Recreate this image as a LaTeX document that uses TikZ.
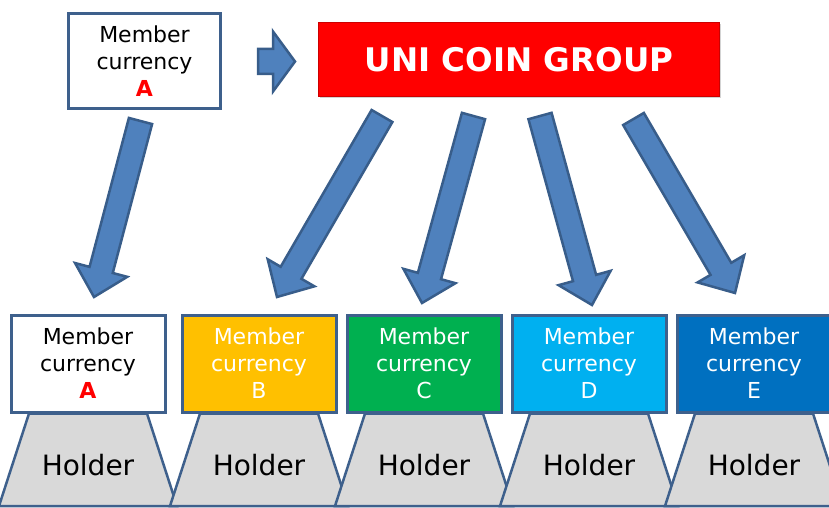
\documentclass[tikz,border=0pt]{standalone}
\usepackage{fontspec}
\setmainfont{DejaVu Sans}
\usetikzlibrary{calc, shadows}
\definecolor{arrowblue}{RGB}{79,129,189}
\definecolor{arrowedge}{RGB}{56,93,138}
\definecolor{boxedge}{RGB}{62,96,140}
\definecolor{coinred}{RGB}{255,0,0}
\definecolor{goldB}{RGB}{255,192,0}
\definecolor{greenC}{RGB}{0,176,80}
\definecolor{cyanD}{RGB}{0,176,240}
\definecolor{blueE}{RGB}{0,112,192}
\definecolor{holdgray}{RGB}{217,217,217}
\tikzstyle{member} = [draw=boxedge, line width=3, inner sep=0,
    minimum width=154, minimum height=97, align=center,
    font=\fontsize{22}{27}\selectfont]
\tikzstyle{coinbox} = [fill=coinred, draw=red!80!black, line width=0.6,
    minimum width=401, minimum height=74, text=white,
    font=\fontsize{32.5}{36}\selectfont\bfseries,
    drop shadow={opacity=0.35, shadow xshift=1.5pt, shadow yshift=-2pt}]
\tikzstyle{holder} = [draw=boxedge, line width=2.5, fill=holdgray]
\tikzstyle{holdtext} = [inner sep=0, font=\fontsize{28}{32}\selectfont]
\tikzstyle{bigarrow} = [draw=arrowedge, line width=2.5, fill=arrowblue]
% block arrow: from, to, shaft half width, head half width, head length
\newcommand{\blockarrow}[5]{%
  \coordinate (hb) at ($(#2)!#5!(#1)$);
  \draw[bigarrow] ($(#1)!#3!90:(#2)$) -- ($(hb)!#3!90:(#2)$)
    -- ($(hb)!#4!90:(#2)$) -- (#2) -- ($(hb)!#4!-90:(#2)$)
    -- ($(hb)!#3!-90:(#2)$) -- ($(#1)!#3!-90:(#2)$) -- cycle;}

\begin{document}
\begin{tikzpicture}[x=1pt, y=-1pt]
\clip (0,0) rectangle (829,508);

%%% holders
\coordinate (baseA) at (88,413.5);
\coordinate (baseB) at (259,413.5);
\coordinate (baseC) at (424,413.5);
\coordinate (baseD) at (589,413.5);
\coordinate (baseE) at (754,413.5);

\draw[holder] ($(baseA)+(-59,0)$) -- ($(baseA)+(59,0)$) -- ($(baseA)+(89,92.5)$) -- ($(baseA)+(-89,92.5)$) -- cycle;
\draw[holder] ($(baseB)+(-59,0)$) -- ($(baseB)+(59,0)$) -- ($(baseB)+(89,92.5)$) -- ($(baseB)+(-89,92.5)$) -- cycle;
\draw[holder] ($(baseC)+(-59,0)$) -- ($(baseC)+(59,0)$) -- ($(baseC)+(89,92.5)$) -- ($(baseC)+(-89,92.5)$) -- cycle;
\draw[holder] ($(baseD)+(-59,0)$) -- ($(baseD)+(59,0)$) -- ($(baseD)+(89,92.5)$) -- ($(baseD)+(-89,92.5)$) -- cycle;
\draw[holder] ($(baseE)+(-59,0)$) -- ($(baseE)+(59,0)$) -- ($(baseE)+(89,92.5)$) -- ($(baseE)+(-89,92.5)$) -- cycle;

\node[holdtext] (holdA) at ($(baseA)+(0,52)$) {Holder};
\node[holdtext] (holdB) at ($(baseB)+(0,52)$) {Holder};
\node[holdtext] (holdC) at ($(baseC)+(0,52)$) {Holder};
\node[holdtext] (holdD) at ($(baseD)+(0,52)$) {Holder};
\node[holdtext] (holdE) at ($(baseE)+(0,52)$) {Holder};

%%% member currencies
\node[member, fill=white, anchor=south] (curA) at (baseA) {Member\\currency\\{\color{red}\bfseries A}};
\node[member, fill=goldB, text=white, anchor=south] (curB) at (baseB) {Member\\currency\\B};
\node[member, fill=greenC, text=white, anchor=south] (curC) at (baseC) {Member\\currency\\C};
\node[member, fill=cyanD, text=white, anchor=south] (curD) at (baseD) {Member\\currency\\D};
\node[member, fill=blueE, text=white, anchor=south] (curE) at (baseE) {Member\\currency\\E};

\node[member, fill=white, minimum width=152, minimum height=95] (memA) at (144.5,61) {Member\\currency\\{\color{red}\bfseries A}};

\node[coinbox] (group) at (519,59.5) {UNI COIN GROUP};

%%% arrows
\coordinate (s0) at (258,61.5);
\coordinate (e0) at (295,61.5);
\coordinate (s1) at (140.5,121);
\coordinate (e1) at (94,297);
\coordinate (s2) at (382,116);
\coordinate (e2) at (277,297);
\coordinate (s3) at (473.5,116);
\coordinate (e3) at (422,303);
\coordinate (s4) at (540,116);
\coordinate (e4) at (592,305);
\coordinate (s5) at (633.5,119);
\coordinate (e5) at (735,293);

\blockarrow{s0}{e0}{12.5pt}{30pt}{22pt}
\blockarrow{s1}{e1}{12pt}{27pt}{28pt}
\blockarrow{s2}{e2}{12pt}{27pt}{28pt}
\blockarrow{s3}{e3}{12pt}{27pt}{28pt}
\blockarrow{s4}{e4}{12pt}{27pt}{28pt}
\blockarrow{s5}{e5}{12pt}{27pt}{28pt}

\end{tikzpicture}
\end{document}
